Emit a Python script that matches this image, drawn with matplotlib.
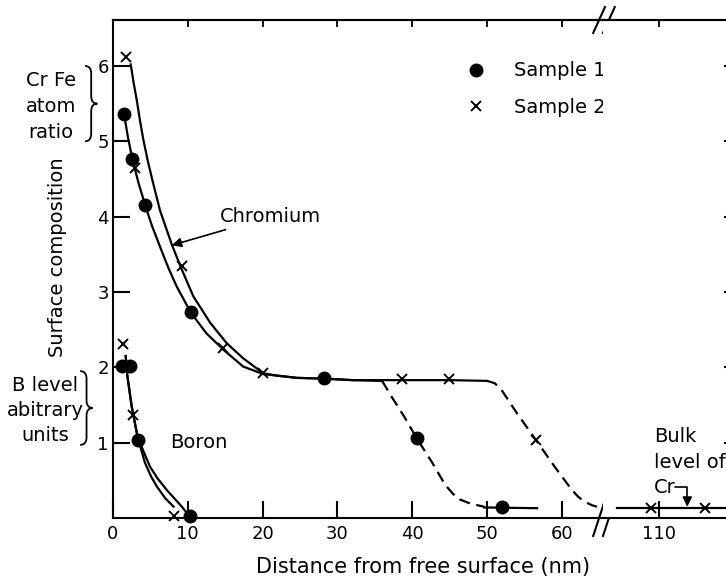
import matplotlib
matplotlib.use('Agg')
import matplotlib.pyplot as plt
from matplotlib.path import Path
from matplotlib.patches import PathPatch
from matplotlib.transforms import blended_transform_factory

plt.rcParams['font.family'] = 'DejaVu Sans'
plt.rcParams['font.size'] = 14

# # # # # # # # # # # # # # # # # # # # # # # #
# Measured points (read off the scanned figure)
cr1_x = [1.5, 2.6, 4.3, 10.4, 28.2, 40.7, 52.0]
cr1_y = [5.36, 4.76, 4.16, 2.74, 1.86, 1.06, 0.15]
cr2_x = [1.74, 2.9, 9.2, 14.7, 20.1, 38.6, 44.9, 56.5]
cr2_y = [6.12, 4.64, 3.34, 2.26, 1.92, 1.84, 1.84, 1.04]
bulk_x = [108.9, 116.2]
bulk_y = [0.13, 0.13]
b1_x = [1.2, 2.3, 3.4, 10.3]
b1_y = [2.02, 2.02, 1.04, 0.03]
b2_x = [1.3, 2.7, 8.1]
b2_y = [2.31, 1.37, 0.02]

# # # # # # # # # # # # # # # # # # # # # # # #
# Hand drawn curves
cr1_line_x = [1.47, 2.0, 2.63, 3.4, 4.28, 5.2, 6.29, 7.4, 8.53, 10.44, 12.5, 14.8, 17.4,
              20.1, 21.9, 24.6, 28.2, 32.0, 35.97]
cr1_line_y = [5.37, 5.05, 4.75, 4.45, 4.16, 3.88, 3.6, 3.32, 3.07, 2.72, 2.45, 2.23, 2.01,
              1.91, 1.89, 1.86, 1.85, 1.83, 1.82]
cr1_dash_x = [35.97, 37.3, 38.9, 40.65, 42.7, 44.4, 46.0, 47.8, 49.6]
cr1_dash_y = [1.82, 1.6, 1.35, 1.05, 0.73, 0.44, 0.26, 0.19, 0.15]
cr1_tail_x = [49.6, 56.7]
cr1_tail_y = [0.14, 0.13]

cr2_line_x = [2.37, 2.75, 3.17, 3.6, 4.06, 4.65, 5.3, 6.29, 7.86, 9.1, 10.75, 13.0, 15.2,
              17.4, 20.1, 21.9, 24.6, 28.2, 32.0, 36.0, 40.0, 45.0, 50.0]
cr2_line_y = [6.02, 5.78, 5.55, 5.28, 5.02, 4.74, 4.47, 4.08, 3.63, 3.32, 2.94, 2.59, 2.32,
              2.12, 1.92, 1.89, 1.86, 1.85, 1.83, 1.83, 1.83, 1.83, 1.82]
cr2_dash_x = [50.0, 51.0, 51.8, 52.8, 54.0, 56.5, 58.9, 61.2, 62.2, 63.0, 64.0, 64.7]
cr2_dash_y = [1.82, 1.79, 1.72, 1.57, 1.39, 1.04, 0.70, 0.39, 0.28, 0.22, 0.17, 0.15]
bulk_line_x = [104.4, 125.0]
bulk_line_y = [0.13, 0.13]

b1_line_x = [1.7, 1.9, 2.5, 3.3, 4.1, 4.95, 6.0, 7.2, 8.3, 9.2, 10.1]
b1_line_y = [2.15, 1.9, 1.48, 1.07, 0.88, 0.68, 0.52, 0.37, 0.25, 0.15, 0.04]
b2_line_x = [1.7, 1.9, 2.5, 3.3, 4.28, 5.1, 5.85, 7.0, 8.1]
b2_line_y = [2.15, 1.9, 1.48, 1.07, 0.73, 0.55, 0.42, 0.26, 0.15]

x_ticks = [0, 10, 20, 30, 40, 50, 60]
x_ticks_far = [110]
y_ticks = [1, 2, 3, 4, 5, 6]


def curly_brace(ax, x0, w, y_top, y_bot, c=0.1):
    # "}" shape: x in axes fraction, y in data units
    xm = x0 + w * 0.5
    ym = (y_top + y_bot) / 2
    verts = [(x0, y_top), (xm, y_top), (xm, y_top - c),
             (xm, ym + c),
             (xm, ym), (x0 + w, ym),
             (xm, ym), (xm, ym - c),
             (xm, y_bot + c),
             (xm, y_bot), (x0, y_bot)]
    codes = [Path.MOVETO, Path.CURVE3, Path.CURVE3,
             Path.LINETO,
             Path.CURVE3, Path.CURVE3,
             Path.CURVE3, Path.CURVE3,
             Path.LINETO,
             Path.CURVE3, Path.CURVE3]
    tr = blended_transform_factory(ax.transAxes, ax.transData)
    ax.add_patch(PathPatch(Path(verts, codes), transform=tr, fill=False,
                           lw=1.3, color='black', clip_on=False))


W, H = 726, 579
fig = plt.figure(figsize=(W / 100, H / 100), dpi=100)
ax = fig.add_axes([113 / W, 61 / H, 490 / W, 498 / H])
ax2 = fig.add_axes([603 / W, 61 / H, 138 / W, 498 / H], sharey=ax)

lw = 1.6
dash = (0, (5, 3))

# curves
ax.plot(cr1_line_x, cr1_line_y, color='black', lw=lw)
ax.plot(cr1_dash_x, cr1_dash_y, color='black', lw=lw, linestyle=dash)
ax.plot(cr1_tail_x, cr1_tail_y, color='black', lw=lw)
ax.plot(cr2_line_x, cr2_line_y, color='black', lw=lw)
ax.plot(cr2_dash_x, cr2_dash_y, color='black', lw=lw, linestyle=dash)
ax.plot(b1_line_x, b1_line_y, color='black', lw=lw)
ax.plot(b2_line_x, b2_line_y, color='black', lw=lw)
ax2.plot(bulk_line_x, bulk_line_y, color='black', lw=lw)

# points
dot = dict(color='black', marker='o', linestyle='none', markersize=9, clip_on=False)
cross = dict(color='black', marker='x', linestyle='none', markersize=7,
             markeredgewidth=1.4, clip_on=False)
h1, = ax.plot(cr1_x, cr1_y, label='Sample 1', **dot)
h2, = ax.plot(cr2_x, cr2_y, label='Sample 2', **cross)
ax.plot(b1_x, b1_y, **dot)
ax.plot(b2_x, b2_y, **cross)
ax2.plot(bulk_x, bulk_y, **cross)

ax.set_xlim(0, 65.5)
ax2.set_xlim(102.5, 121.0)
ax.set_ylim(0, 6.61)

for a in (ax, ax2):
    for s in a.spines.values():
        s.set_linewidth(1.5)
ax.spines['right'].set_visible(False)
ax2.spines['left'].set_visible(False)

ax.set_xticks(x_ticks)
ax.set_yticks(y_ticks)
ax.tick_params(direction='in', length=12, width=1.5, labelsize=13, pad=5)
ax.tick_params(axis='y', pad=3)
ax2.set_xticks(x_ticks_far)
ax2.tick_params(direction='in', length=12, width=1.5, labelsize=13, pad=5,
                left=False, labelleft=False, right=True)

for a, t in ((ax, x_ticks[1:]), (ax2, x_ticks_far)):
    top = a.secondary_xaxis('top')
    top.set_xticks(t)
    top.tick_params(direction='in', length=5, width=1.3, labeltop=False)
    top.spines['top'].set_linewidth(1.5)

ax.set_xlabel('Distance from free surface (nm)', fontsize=15)
ax.xaxis.set_label_coords(0.632, -0.078)
ax.set_ylabel('Surface composition', fontsize=14)
ax.yaxis.set_label_coords(-0.094, 0.524)

# break marks on the x axis
tr = blended_transform_factory(ax.transAxes, ax.transAxes)
for y0, dy in ((0.0, 0.036), (1.0, 0.026)):
    for off in (-0.008, 0.012):
        ax.plot([1.0 + off - 0.012, 1.0 + off + 0.012], [y0 - dy, y0 + dy],
                transform=tr, color='black', lw=1.5, clip_on=False)

# annotations
ax.annotate('Chromium', xy=(7.86, 3.62), xytext=(14.3, 4.0), va='center', ha='left',
            arrowprops=dict(arrowstyle='-|>', color='black', lw=1.2, shrinkA=2, shrinkB=0))
ax.text(7.6, 1.0, 'Boron', va='center', ha='left')

bt = blended_transform_factory(ax.transAxes, ax.transData)
ax.text(-0.127, 5.46, 'Cr Fe\natom\nratio', transform=bt, ha='center', va='center',
        multialignment='center', linespacing=1.45)
ax.text(-0.139, 1.43, 'B level\nabitrary\nunits', transform=bt, ha='center', va='center',
        multialignment='center', linespacing=1.4)
curly_brace(ax, -0.057, 0.025, 6.0, 5.0)
curly_brace(ax, -0.067, 0.026, 1.95, 0.97)

ax2.text(109.3, 0.74, 'Bulk\nlevel of\nCr', ha='left', va='center', linespacing=1.45)
ax2.annotate('', xy=(113.8, 0.15), xytext=(112.1, 0.41),
             arrowprops=dict(arrowstyle='-|>', color='black', lw=1.2, shrinkA=0, shrinkB=0,
                             connectionstyle='angle,angleA=0,angleB=90,rad=0'))

ax.legend(handles=[h1, h2], loc='upper left', bbox_to_anchor=(0.72, 0.917),
          frameon=False, borderpad=0, borderaxespad=0, handlelength=1.0,
          handletextpad=1.5, labelspacing=0.9, fontsize=14)

fig.savefig('out.png', dpi=100)
